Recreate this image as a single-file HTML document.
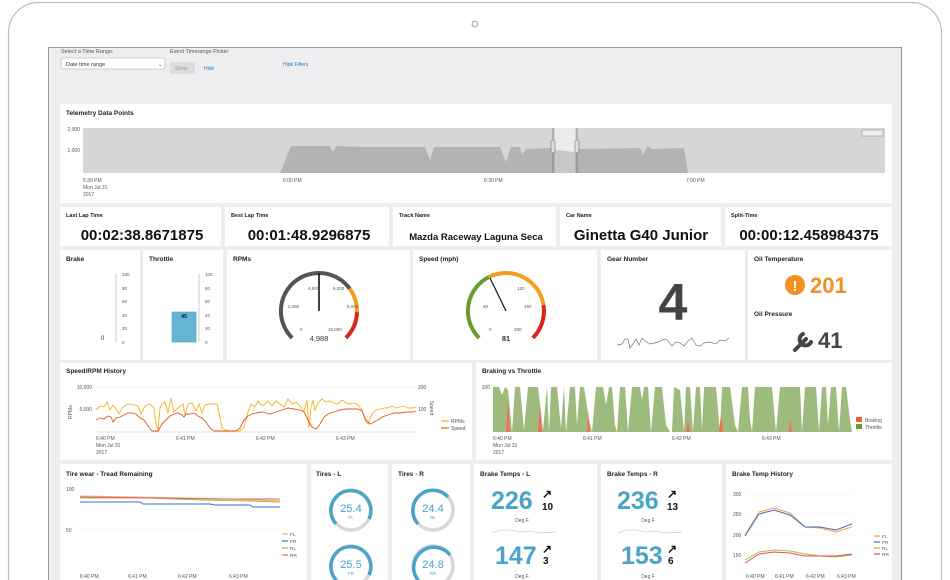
<!DOCTYPE html>
<html><head><meta charset="utf-8"><style>
html,body{margin:0;padding:0;background:#fff;overflow:hidden;width:950px;height:580px;}
svg{display:block;font-family:"Liberation Sans",sans-serif;}
.t{font-size:6.5px;font-weight:bold;fill:#222}
.s{font-size:5px;fill:#555}
.big{font-size:15px;font-weight:bold;fill:#111}
</style></head><body>
<svg width="950" height="580" viewBox="0 0 950 580">
<rect x="8.5" y="2.5" width="933" height="620" rx="30" fill="#fff" stroke="#bdbdbd" stroke-width="1.2"/>
<circle cx="475" cy="24" r="3" fill="none" stroke="#888" stroke-width="0.8"/>
<rect x="48.5" y="47.5" width="853" height="540" fill="#eeeef1" stroke="#999" stroke-width="1"/>
<!-- filters -->
<text x="61" y="53" class="s" style="font-size:5.5px">Select a Time Range:</text>
<text x="170" y="53" class="s" style="font-size:5.5px">Event Timerange Picker</text>
<rect x="61" y="58" width="104" height="11" rx="2" fill="#fff" stroke="#aaa" stroke-width="0.6"/>
<text x="66" y="66" class="s" style="font-size:5.5px;fill:#333">Date time range</text>
<text x="158" y="66" class="s" style="fill:#333">⌄</text>
<rect x="170" y="62" width="25" height="12" fill="#ddd"/>
<text x="175" y="70" class="s" style="fill:#999">Show</text>
<text x="204" y="70" class="s" style="fill:#2a7ac0">Hide</text>
<text x="283" y="66" class="s" style="fill:#2a7ac0">Hide Filters</text>
<!-- panels -->
<g fill="#fff">
<rect x="60" y="104" width="832" height="99"/>
<rect x="60" y="207" width="161" height="39"/><rect x="225" y="207" width="164" height="39"/><rect x="393" y="207" width="163" height="39"/><rect x="560" y="207" width="161" height="39"/><rect x="725" y="207" width="167" height="39"/>
<rect x="60" y="250" width="80" height="110"/><rect x="143" y="250" width="80" height="110"/><rect x="227" y="250" width="183" height="110"/><rect x="413" y="250" width="184" height="110"/><rect x="601" y="250" width="144" height="110"/><rect x="748" y="250" width="144" height="110"/>
<rect x="60" y="363" width="412" height="97"/><rect x="476" y="363" width="416" height="97"/>
<rect x="60" y="464" width="247" height="120"/><rect x="311" y="464" width="77" height="120"/><rect x="392" y="464" width="78" height="120"/><rect x="474" y="464" width="123" height="120"/><rect x="601" y="464" width="121" height="120"/><rect x="726" y="464" width="166" height="120"/>
</g>
<!-- telemetry -->
<text x="66" y="115" class="t">Telemetry Data Points</text>
<text x="80" y="131" class="s" text-anchor="end">2,000</text>
<text x="80" y="152" class="s" text-anchor="end">1,000</text>
<rect x="83" y="128" width="802" height="45" fill="#d6d6d6"/>
<rect x="555" y="128" width="20" height="45" fill="#ececec"/>
<polygon fill="#b3b3b3" points="280,173 291,146 330,146 333,152 336,146 360,147 425,147 430,160 434,147 500,147 506,162 511,147 520,147 522,155 526,149 552,148 555,150 555,173"/>
<polygon fill="#c8c8c8" points="555,150 575,152 575,173 555,173"/>
<polygon fill="#b3b3b3" points="575,173 575,152 580,149 640,148 643,155 648,146 652,149 684,148 688,173"/>
<line x1="553" y1="128" x2="553" y2="173" stroke="#777" stroke-width="0.8"/><line x1="577" y1="128" x2="577" y2="173" stroke="#777" stroke-width="0.8"/>
<rect x="551" y="140" width="4" height="13" rx="2" fill="#ddd" stroke="#777" stroke-width="0.6"/><rect x="575" y="140" width="4" height="13" rx="2" fill="#ddd" stroke="#777" stroke-width="0.6"/>
<rect x="862" y="130" width="21" height="6" fill="#eee" stroke="#888" stroke-width="0.5"/>
<text x="83" y="182" class="s">5:30 PM</text><text x="83" y="189" class="s">Mon Jul 31</text><text x="83" y="196" class="s">2017</text>
<text x="283" y="182" class="s">6:00 PM</text><text x="484" y="182" class="s">6:30 PM</text><text x="686" y="182" class="s">7:00 PM</text>
<!-- row2 -->
<g class="t" style="font-size:5.5px"><text x="66" y="217">Last Lap Time</text><text x="231" y="217">Best Lap Time</text><text x="399" y="217">Track Name</text><text x="566" y="217">Car Name</text><text x="731" y="217">Split-Time</text></g>
<text x="142" y="240" class="big" text-anchor="middle">00:02:38.8671875</text>
<text x="309" y="240" class="big" text-anchor="middle">00:01:48.9296875</text>
<text x="476" y="240" class="big" text-anchor="middle" style="font-size:9.5px">Mazda Raceway Laguna Seca</text>
<text x="641" y="240" class="big" text-anchor="middle">Ginetta G40 Junior</text>
<text x="809" y="240" class="big" text-anchor="middle">00:00:12.458984375</text>
<!-- row3 -->
<g class="t"><text x="66" y="261">Brake</text><text x="149" y="261">Throttle</text><text x="233" y="261">RPMs</text><text x="419" y="261">Speed (mph)</text><text x="607" y="261">Gear Number</text><text x="754" y="261">Oil Temperature</text><text x="754" y="316">Oil Pressure</text></g>
<g stroke="#999" stroke-width="0.5">
<line x1="116" y1="274" x2="116" y2="342"/><line x1="199" y1="274" x2="199" y2="342"/>
</g>
<g class="s" style="font-size:4.5px">
<text x="122" y="276">100</text><text x="122" y="290">80</text><text x="122" y="303">60</text><text x="122" y="317">40</text><text x="122" y="330">20</text><text x="122" y="344">0</text>
<text x="205" y="276">100</text><text x="205" y="290">80</text><text x="205" y="303">60</text><text x="205" y="317">40</text><text x="205" y="330">20</text><text x="205" y="344">0</text>
</g>
<text x="101" y="340" class="s" style="font-size:6px;fill:#222">0</text>
<rect x="172" y="312" width="24" height="30" fill="#66b3d4" stroke="#4aa0c4" stroke-width="0.6"/>
<text x="184" y="318" class="s" text-anchor="middle" style="font-size:5.5px;fill:#123;font-weight:bold">45</text>
<!-- RPM gauge -->
<path d="M292.1,337.9 A38,38 0 1 1 349.7,288.7" fill="none" stroke="#555" stroke-width="4"/>
<path d="M349.7,288.7 A38,38 0 0 1 357,312.2" fill="none" stroke="#f39c1f" stroke-width="4"/>
<path d="M357,312.2 A38,38 0 0 1 345.9,337.9" fill="none" stroke="#d9251c" stroke-width="4"/>
<line x1="319" y1="311" x2="319" y2="273" stroke="#111" stroke-width="1.6"/>
<g class="s" style="font-size:4.5px"><text x="299" y="308" text-anchor="end">2,000</text><text x="308" y="290">4,000</text><text x="333" y="290">6,000</text><text x="347" y="308">8,000</text><text x="300" y="331">0</text><text x="328" y="331">10,000</text></g>
<text x="319" y="341" text-anchor="middle" style="font-size:7.5px;fill:#333">4,988</text>
<!-- speed gauge -->
<path d="M479.1,337.9 A38,38 0 0 1 488.7,277.1" fill="none" stroke="#6b9a2c" stroke-width="4"/>
<path d="M488.7,277.1 A38,38 0 0 1 543.5,305.1" fill="none" stroke="#f39c1f" stroke-width="4"/>
<path d="M543.5,305.1 A38,38 0 0 1 532.9,337.9" fill="none" stroke="#d9251c" stroke-width="4"/>
<line x1="506" y1="311" x2="490" y2="278" stroke="#111" stroke-width="1.2"/>
<g class="s" style="font-size:4.5px"><text x="483" y="308">40</text><text x="517" y="290">120</text><text x="524" y="308">160</text><text x="489" y="331">0</text><text x="514" y="331">200</text></g>
<text x="506" y="341" text-anchor="middle" style="font-size:7.5px;fill:#333;font-weight:bold">81</text>
<!-- gear -->
<text x="673" y="320" text-anchor="middle" style="font-size:52px;font-weight:bold;fill:#444">4</text>
<polyline fill="none" stroke="#777" stroke-width="0.7" points="617,345 622,344 625,339 628,339 630,348 633,344 636,339 639,345 642,338 645,341 650,344 655,343 658,342 662,340 665,339 668,341 672,346 676,342 680,343 684,346 688,341 692,338 696,345 700,346 704,343 710,342 716,344 720,340 725,341 729,338"/>
<!-- oil -->
<circle cx="795" cy="285" r="10" fill="#f39024"/>
<text x="795" y="291" text-anchor="middle" style="font-size:15px;font-weight:bold;fill:#fff">!</text>
<text x="810" y="293" style="font-size:22px;font-weight:bold;fill:#f39024">201</text>
<path d="M795,350 L806,339 M803,334 a6,6 0 1 0 8,8" stroke="#444" stroke-width="4" fill="none" stroke-linecap="round"/>
<text x="818" y="348" style="font-size:22px;font-weight:bold;fill:#444">41</text>
<!-- speed/rpm history -->
<text x="66" y="373" class="t">Speed/RPM History</text>
<g class="s"><text x="92" y="389" text-anchor="end">10,000</text><text x="92" y="411" text-anchor="end">5,000</text><text x="418" y="389">200</text><text x="418" y="411">100</text>
<text x="96" y="440">6:40 PM</text><text x="96" y="447">Mon Jul 31</text><text x="96" y="454">2017</text><text x="176" y="440">6:41 PM</text><text x="256" y="440">6:42 PM</text><text x="336" y="440">6:43 PM</text></g>
<text x="72" y="412" class="s" transform="rotate(-90 72 412)" text-anchor="middle">RPMs</text>
<text x="430" y="408" class="s" transform="rotate(90 430 408)" text-anchor="middle">Speed</text>
<line x1="96" y1="387" x2="416" y2="387" stroke="#eee" stroke-width="0.6"/><line x1="96" y1="432" x2="416" y2="432" stroke="#ccc" stroke-width="0.6"/>
<polyline fill="none" stroke="#f5b21b" stroke-width="0.9" points="96,410 100,406 104,407 107,402 110,410 113,405 116,409 119,414 122,408 126,405 130,404 134,405 138,406 141,414 145,406 150,404 154,408 156,424 158,430 160,408 162,404 165,402 168,413 171,398 174,412 177,409 180,406 183,404 185,415 188,404 192,403 196,411 199,404 202,413 205,405 210,404 214,404 217,404 219,413 222,428 226,430 230,431 240,431 244,427 248,412 251,404 255,407 258,401 261,405 264,405 268,401 272,406 276,401 280,404 284,407 288,399 292,404 296,402 300,406 304,411 307,400 309,428 311,408 313,400 315,410 318,403 322,399 326,402 330,401 334,403 338,404 342,400 346,403 350,404 354,403 358,405 362,410 365,420 368,424 372,414 376,410 380,409 384,408 388,408 392,406 396,408 400,407 404,406 408,408 412,408 416,407"/>
<polyline fill="none" stroke="#e8531f" stroke-width="0.9" points="96,420 100,418 104,419 108,416 111,417 113,422 116,418 120,417 124,415 128,413 132,413 136,414 140,418 144,420 148,426 152,431 158,431 162,424 166,420 170,416 174,414 178,413 182,415 184,417 186,414 190,414 194,413 198,416 202,418 206,422 210,428 214,431 226,431 236,431 240,428 244,420 248,416 252,414 256,413 262,412 266,413 270,414 276,412 282,410 288,408 294,409 300,410 304,412 308,420 312,427 316,429 320,424 324,417 328,414 334,412 340,410 346,409 352,409 358,409 362,411 366,420 370,424 374,422 378,420 382,417 388,415 394,413 400,413 406,412 412,412 416,411"/>
<line x1="441" y1="421" x2="449" y2="421" stroke="#f5b21b" stroke-width="1.2"/><text x="451" y="423" class="s">RPMs</text>
<line x1="441" y1="428" x2="449" y2="428" stroke="#e8531f" stroke-width="1.2"/><text x="451" y="430" class="s">Speed</text>
<!-- braking vs throttle -->
<text x="482" y="373" class="t">Braking vs Throttle</text>
<text x="490" y="389" class="s" text-anchor="end">100</text>
<polygon fill="#9dbb7c" points="493,432 493,387 499,387 502,395 505,387 508,390 512,432 515,387 520,387 524,430 528,387 538,387 543,430 547,387 549,432 551,387 557,387 561,428 564,387 566,432 570,387 575,387 577,425 580,387 584,387 589,420 592,432 596,387 603,387 606,405 609,387 612,387 615,425 617,432 620,387 625,387 628,432 632,387 640,387 642,400 644,387 648,387 651,432 655,387 662,387 666,425 670,432 672,432 674,387 680,390 684,432 686,387 690,387 693,432 696,387 700,387 702,430 704,387 716,387 720,432 722,387 730,387 735,425 738,432 742,387 748,387 750,420 752,432 755,387 772,387 776,432 780,387 800,387 802,432 805,387 816,387 819,432 822,387 826,387 828,425 831,387 836,387 839,432 842,387 846,387 850,420 852,432"/>
<polygon fill="#f0705a" points="506,432 508,400 510,432"/><polygon fill="#f0705a" points="538,432 540,405 542,432"/><polygon fill="#f0705a" points="587,432 588,410 590,432"/><polygon fill="#f0705a" points="686,432 688,420 690,432"/><polygon fill="#f0705a" points="719,432 721,415 723,432"/><polygon fill="#f0705a" points="789,432 790,418 792,432"/>
<g class="s"><text x="493" y="440">6:40 PM</text><text x="493" y="447">Mon Jul 31</text><text x="493" y="454">2017</text><text x="583" y="440">6:41 PM</text><text x="672" y="440">6:42 PM</text><text x="762" y="440">6:43 PM</text></g>
<rect x="856" y="417" width="6" height="5" fill="#f05a3c"/><text x="865" y="422" class="s">Braking</text>
<rect x="856" y="424" width="6" height="5" fill="#6b9a2c"/><text x="865" y="429" class="s">Throttle</text>
<!-- tire wear -->
<text x="66" y="476" class="t">Tire wear - Tread Remaining</text>
<g class="s"><text x="66" y="491">100</text><text x="66" y="532">50</text><text x="80" y="578">6:40 PM</text><text x="128" y="578">6:41 PM</text><text x="178" y="578">6:42 PM</text><text x="229" y="578">6:43 PM</text></g>
<line x1="80" y1="530" x2="280" y2="530" stroke="#eee" stroke-width="0.6"/>
<polyline fill="none" stroke="#f6b08a" stroke-width="1.2" points="80,496 130,497 180,498 230,499 280,501"/>
<polyline fill="none" stroke="#a8c23a" stroke-width="1" points="80,498 150,498 200,500 250,501 280,502"/>
<polyline fill="none" stroke="#e86060" stroke-width="1" points="80,497 150,498 220,499 280,499"/>
<polyline fill="none" stroke="#3b6fc4" stroke-width="1" points="80,502 140,502 143,504 210,504 215,505 250,505 253,507 280,507"/>
<g class="s" style="font-size:4.8px"><text x="290" y="536">FL</text><text x="290" y="543">FR</text><text x="290" y="550">RL</text><text x="290" y="557">RR</text></g>
<g stroke-width="1.2"><line x1="282" y1="534" x2="288" y2="534" stroke="#f6b08a"/><line x1="282" y1="541" x2="288" y2="541" stroke="#3b6fc4"/><line x1="282" y1="548" x2="288" y2="548" stroke="#a8c23a"/><line x1="282" y1="555" x2="288" y2="555" stroke="#e86060"/></g>
<!-- tires -->
<g class="t"><text x="316" y="476">Tires - L</text><text x="398" y="476">Tires - R</text><text x="480" y="476">Brake Temps - L</text><text x="607" y="476">Brake Temps - R</text><text x="732" y="476">Brake Temp History</text></g>
<g fill="none" stroke-width="3.5">
<circle cx="351" cy="510" r="20" stroke="#d8d8d8"/><path d="M336,524 A20,20 0 1 1 369,519" stroke="#4aa3c8"/>
<circle cx="351" cy="566" r="20" stroke="#d8d8d8"/><path d="M336,580 A20,20 0 1 1 369,575" stroke="#4aa3c8"/>
<circle cx="433" cy="510" r="20" stroke="#d8d8d8"/><path d="M418,524 A20,20 0 1 1 448,497" stroke="#4aa3c8"/>
<circle cx="433" cy="566" r="20" stroke="#d8d8d8"/><path d="M418,580 A20,20 0 1 1 450,555" stroke="#4aa3c8"/>
</g>
<g text-anchor="middle" style="font-size:11px;fill:#4aa3c8"><text x="351" y="512">25.4</text><text x="351" y="568">25.5</text><text x="433" y="512">24.4</text><text x="433" y="568">24.8</text></g>
<g text-anchor="middle" class="s" style="fill:#4aa3c8;font-size:4.5px"><text x="351" y="519">FL</text><text x="351" y="575">FR</text><text x="433" y="519">RL</text><text x="433" y="575">RR</text></g>
<!-- brake temps -->
<g style="font-size:25px;font-weight:bold;fill:#4aa3c8"><text x="491" y="509">226</text><text x="495" y="564">147</text><text x="617" y="509">236</text><text x="621" y="564">153</text></g>
<g style="font-size:12px;font-weight:bold;fill:#111"><text x="542" y="498">↗</text><text x="542" y="510" style="font-size:10px">10</text><text x="542" y="553">↗</text><text x="543" y="564" style="font-size:10px">3</text>
<text x="667" y="498">↗</text><text x="667" y="510" style="font-size:10px">13</text><text x="667" y="553">↗</text><text x="668" y="564" style="font-size:10px">6</text></g>
<g class="s" text-anchor="middle"><text x="522" y="522">Deg F</text><text x="522" y="578">Deg F</text><text x="648" y="522">Deg F</text><text x="648" y="578">Deg F</text></g>
<polyline fill="none" stroke="#bbb" stroke-width="0.6" points="492,533 500,530 510,530 520,532 530,531 540,533 556,532"/>
<polyline fill="none" stroke="#bbb" stroke-width="0.6" points="618,533 626,530 636,530 646,532 656,531 666,533 682,532"/>
<!-- brake temp history -->
<g class="s"><text x="733" y="496">300</text><text x="733" y="516">250</text><text x="733" y="537">200</text><text x="733" y="557">150</text><text x="746" y="578">6:40 PM</text><text x="775" y="578">6:41 PM</text><text x="806" y="578">6:42 PM</text><text x="837" y="578">6:43 PM</text></g>
<g stroke="#f0f0f0" stroke-width="0.6"><line x1="745" y1="494" x2="855" y2="494"/><line x1="745" y1="514" x2="855" y2="514"/><line x1="745" y1="535" x2="855" y2="535"/><line x1="745" y1="555" x2="855" y2="555"/></g>
<polyline fill="none" stroke="#f5a04a" stroke-width="1" points="745,535 759,512 774,508 790,513 805,527 820,528 836,532 852,527"/>
<polyline fill="none" stroke="#3b6fc4" stroke-width="1" points="745,536 759,514 774,510 790,515 805,527 820,527 836,530 852,524"/>
<polyline fill="none" stroke="#a8c23a" stroke-width="1" points="745,560 759,552 774,550 790,551 805,554 820,556 836,557 852,555"/>
<polyline fill="none" stroke="#e84a6a" stroke-width="1" points="745,563 759,554 774,552 790,553 805,556 820,556 836,556 852,554"/>
<g class="s" style="font-size:4.8px"><text x="882" y="538">FL</text><text x="882" y="544">FR</text><text x="882" y="550">RL</text><text x="882" y="556">RR</text></g>
<g stroke-width="1.2"><line x1="874" y1="536" x2="880" y2="536" stroke="#f5a04a"/><line x1="874" y1="542" x2="880" y2="542" stroke="#3b6fc4"/><line x1="874" y1="548" x2="880" y2="548" stroke="#a8c23a"/><line x1="874" y1="554" x2="880" y2="554" stroke="#e84a6a"/></g>
</svg>
</body></html>
